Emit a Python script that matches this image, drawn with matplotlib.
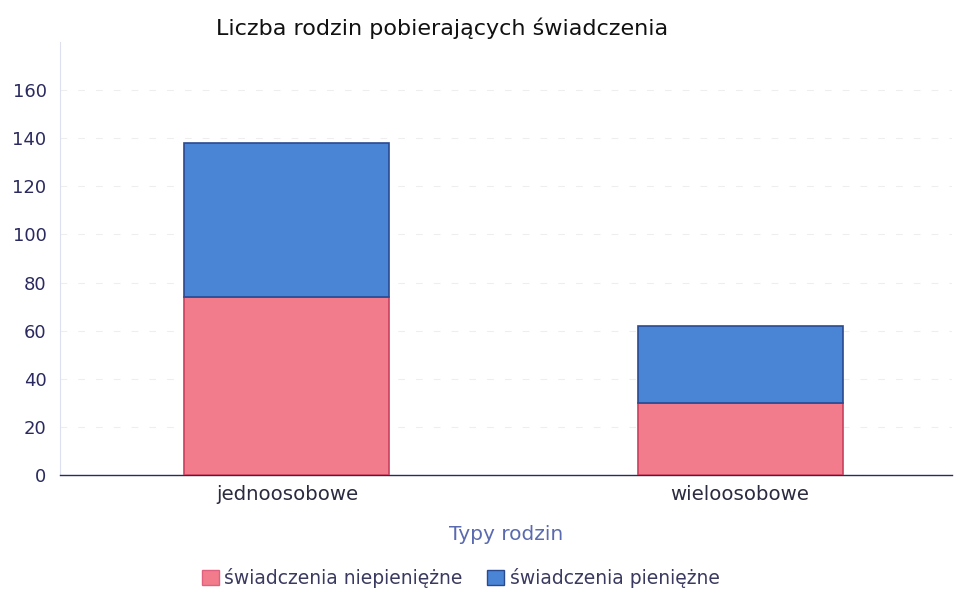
import matplotlib
matplotlib.use("Agg")
import matplotlib.pyplot as plt
import numpy as np
from matplotlib.patches import Patch

categories = ["jednoosobowe", "wieloosobowe"]
niepieniezne = [74, 30]
pieniezne = [64, 32]
series_labels = ["świadczenia niepieniężne", "świadczenia pieniężne"]
yticks = [0, 20, 40, 60, 80, 100, 120, 140, 160]

plt.rcParams['font.family'] = ['DejaVu Sans']

fig = plt.figure(figsize=(9.6, 5.92), dpi=100)
ax = fig.add_axes([0.063, 0.1976, 0.9287, 0.7314])

x = np.arange(len(categories))
pink = '#f27c8c'
blue = '#4a84d4'
ax.bar(x, niepieniezne, width=0.4525, color=pink, edgecolor='#c8405e', linewidth=1.2, zorder=3)
ax.bar(x, pieniezne, bottom=niepieniezne, width=0.4525, color=blue, edgecolor='#2a4a90', linewidth=1.2, zorder=3)

ax.set_xlim(-0.5, 1.468)
ax.set_ylim(0, 180)
ax.set_yticks(yticks)
ax.set_yticklabels([str(t) for t in yticks], color='#2a2a60', fontsize=13)
ax.set_xticks(x)
ax.set_xticklabels(categories, fontsize=14.2, color='#2a2a40')
ax.tick_params(axis='y', length=0, pad=10)
ax.tick_params(axis='x', length=0, pad=7)
ax.grid(axis='y', color='#eeeeee', linewidth=0.8, linestyle=(0, (6, 10)), zorder=0)

for s in ['top', 'right']:
    ax.spines[s].set_visible(False)
ax.spines['left'].set_color('#dde0ee')
ax.spines['bottom'].set_color('#2a2a60')
ax.spines['bottom'].set_linewidth(1.0)

ax.set_xlabel("Typy rodzin", fontsize=14.5, color='#5a6ab0', labelpad=15)
fig.text(0.46, 0.953, "Liczba rodzin pobierających świadczenia", ha='center', va='center', fontsize=16, color='#111111')

handles = [Patch(facecolor=pink, edgecolor='#e06080'), Patch(facecolor=blue, edgecolor='#2a4a90')]
fig.legend(handles, series_labels, loc='center', bbox_to_anchor=(0.48, 0.024), ncol=2, frameon=False,
           fontsize=13.5, handlelength=0.9, handleheight=0.9, handletextpad=0.3, columnspacing=1.3,
           labelcolor='#3a3a60')

fig.savefig("out.png", dpi=100)
